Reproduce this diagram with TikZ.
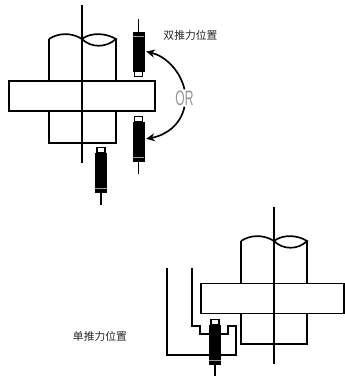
\documentclass[tikz,border=0pt]{standalone}
\usepackage{fontspec}
\newfontfamily\cjk{Noto Sans CJK SC}
\setsansfont{Liberation Sans}
\usetikzlibrary{arrows.meta}
\tikzset{
  px/.style={x=0.75pt,y=-0.75pt},
  part/.style={draw=black,line width=1.25pt,line join=miter},
  axis/.style={draw=black,line width=1.2pt},
  body/.style={draw=black,fill=black,minimum width=8.2pt,minimum height=29pt,inner sep=0pt,line width=0.3pt},
  tip/.style={draw=black,fill=white,minimum width=5.8pt,minimum height=3.8pt,inner sep=0pt,line width=1pt},
  band/.style={draw=gray!75,line width=0.5pt},
  swing/.style={draw=black,line width=1.25pt,-{Stealth[length=6.5pt,width=6pt]}},
  labeltext/.style={font=\cjk\fontsize{8.1pt}{9pt}\selectfont,text=black!85,inner sep=0pt},
}
\newcommand{\sensorup}[3]{% name, x, top of body: lead above, tip below
  \coordinate (#1lead) at (#2,#3-13);
  \node[body,anchor=north] (#1) at (#2,#3) {};
  \node[tip,anchor=north] (#1tip) at (#1.south) {};
  \draw[axis] (#1lead) -- (#1.north);
  \draw[band] ([yshift=-3pt]#1.north west) -- ([yshift=-3pt]#1.north east);
}
\newcommand{\sensordown}[3]{% name, x, top of body: tip above, lead below
  \node[body,anchor=north] (#1) at (#2,#3) {};
  \coordinate (#1lead) at (#2,#3+52);
  \node[tip,anchor=south] (#1tip) at (#1.north) {};
  \draw[axis] (#1.south) -- (#1lead);
  \draw[band] ([yshift=3pt]#1.south west) -- ([yshift=3pt]#1.south east);
}
\begin{document}
\begin{tikzpicture}[px]
\useasboundingbox (0,0) rectangle (345,376);
% upper assembly
\coordinate (sa) at (49,39); \coordinate (sb) at (116,39);
\coordinate (sc) at (116,143); \coordinate (sd) at (49,143);
\coordinate (am) at (82,39);
\draw[part,fill=white] (sa) -- (sd) -- (sc) -- (sb);
\draw[part] (sa) .. controls (58,33) and (71,32) .. (am)
            .. controls (91,32) and (106,33) .. (sb)
            .. controls (106,48) and (91,48) .. (am);
\node[part,fill=white,minimum width=109.5pt,minimum height=22.5pt,inner sep=0pt] (fa) at (82,96) {};
\coordinate (at) at (82,5); \coordinate (ab) at (82,163);
\draw[axis] (at) -- (ab);
\sensorup{su}{138.5}{32}
\sensordown{sl}{138.5}{122}
\sensordown{sm}{101}{153}
\node[font=\sffamily\fontsize{15.6pt}{15.6pt}\selectfont,text=black!42,xscale=.58,inner sep=0pt] (or) at (184.5,98) {OR};
\draw[swing] (or.north) ++(0,-1) .. controls (180,70) and (165,56) .. ([xshift=1.5pt]su.east);
\draw[swing] (or.south) ++(0,1) .. controls (181,124) and (167,135) .. ([yshift=2pt,xshift=1.5pt]sl.east);
\node[labeltext] (ct) at (190.5,35) {双推力位置};
% lower assembly
\coordinate (ta) at (241,241); \coordinate (tb) at (307,241);
\coordinate (tc) at (307,344); \coordinate (td) at (241,344);
\coordinate (tm) at (274,241);
\draw[part,fill=white] (ta) -- (td) -- (tc) -- (tb);
\draw[part] (ta) .. controls (250,235) and (263,234) .. (tm)
            .. controls (283,234) and (298,235) .. (tb)
            .. controls (298,250) and (283,250) .. (tm);
\node[part,fill=white,minimum width=107.5pt,minimum height=22.7pt,inner sep=0pt] (fb) at (272.5,298.5) {};
\coordinate (bt) at (274,207); \coordinate (bb) at (274,364);
\draw[axis] (bt) -- (bb);
\coordinate (k1) at (167,268); \coordinate (k2) at (167,355); \coordinate (k3) at (236,355);
\coordinate (k4) at (236,326); \coordinate (k5) at (228,326); \coordinate (k6) at (228,334);
\coordinate (k7) at (192,268); \coordinate (k8) at (192,326); \coordinate (k9) at (200,326);
\coordinate (k10) at (200,334); \coordinate (k11) at (215,334);
\draw[part] (k1) -- (k2) -- (k3) -- (k4) -- (k5) -- (k6) -- (k11);
\draw[part] (k7) -- (k8) -- (k9) -- (k10) -- (k11);
\sensordown{sn}{215}{325}
\node[labeltext] (cb) at (100,336) {单推力位置};
\end{tikzpicture}
\end{document}
